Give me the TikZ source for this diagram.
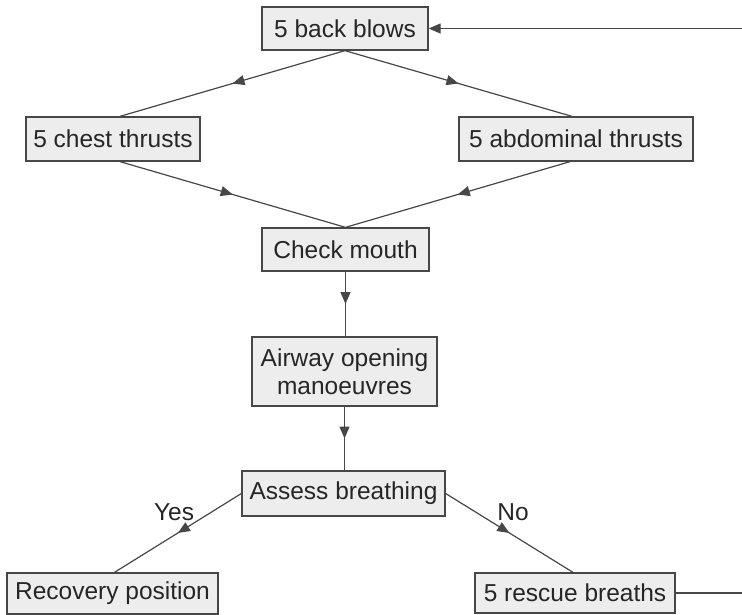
\documentclass[tikz,border=0pt]{standalone}
\usepackage{fontspec}
\setmainfont{Liberation Sans}
\usetikzlibrary{decorations.markings,arrows.meta}
\begin{document}
\begin{tikzpicture}[x=1pt,y=-1pt,
  box/.style={draw=black!72, line width=1.3pt, fill=black!7, inner sep=0pt,
    font=\fontsize{24.5}{28}\selectfont, text=black!85, align=center},
  link/.style={draw=black!72, line width=1.2pt},
  flow/.style={link, postaction={decorate}, decoration={markings,
    mark=at position 0.5 with {\arrow{Triangle[length=12pt,width=10pt]}}}},
  lbl/.style={font=\fontsize{24.5}{28}\selectfont, text=black!85, inner sep=0pt}]
\useasboundingbox (0,0) rectangle (742,614);
\node[box, minimum width=166pt, minimum height=43pt] (bb) at (345,28.5) {5 back blows};
\node[box, minimum width=174pt, minimum height=44pt] (ct) at (113,139) {5 chest thrusts};
\node[box, minimum width=234pt, minimum height=44pt] (at) at (576,139) {5 abdominal thrusts};
\node[box, minimum width=167pt, minimum height=43pt] (cm) at (345.5,249.5) {Check mouth};
\node[box, minimum width=185pt, minimum height=69pt] (aw) at (344.5,371.5) {Airway opening\\manoeuvres};
\node[box, minimum width=203pt, minimum height=45pt] (ab) at (343.5,493.5) {Assess breathing};
\node[box, minimum width=211pt, minimum height=41pt] (rp) at (112.5,593.5) {Recovery position};
\node[box, minimum width=200pt, minimum height=40pt] (rb) at (575,593) {5 rescue breaths};
\node[lbl] (yes) at (174,512) {Yes};
\node[lbl] (no) at (513,512) {No};
\coordinate (e1) at (742,593);
\coordinate (e2) at (742,28.5);
\draw[flow] (bb.south) -- ([xshift=7pt]ct.north);
\draw[flow] (bb.south) -- ([xshift=-4pt]at.north);
\draw[flow] ([xshift=7pt]ct.south) -- (cm.north);
\draw[flow] ([xshift=-6pt]at.south) -- (cm.north);
\draw[flow] (cm.south) -- (cm.south |- aw.north);
\draw[flow] (aw.south) -- (aw.south |- ab.north);
\draw[flow] (ab.west) -- ([xshift=2pt]rp.north);
\draw[flow] (ab.east) -- ([xshift=-2pt]rb.north);
\draw[link] (rb.east) -- (e1);
\draw[link,-{Triangle[length=12pt,width=10pt]}] (e2) -- (bb.east);
\end{tikzpicture}
\end{document}
